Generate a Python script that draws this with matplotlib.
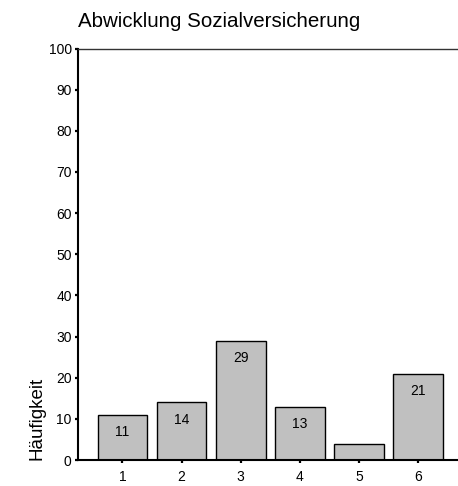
import matplotlib
matplotlib.use("Agg")
import matplotlib.pyplot as plt

# Abwicklung Sozialversicherung - Haeufigkeiten
categories = [1, 2, 3, 4, 5, 6]
counts = [11, 14, 29, 13, 4, 21]
bar_labels = ["11", "14", "29", "13", "", "21"]

plt.rcParams['font.family'] = ['Liberation Sans', 'DejaVu Sans']

fig = plt.figure(figsize=(4.58, 4.86), dpi=100)
ax = fig.add_axes([78/458, 26/486, 380/458, 411.5/486])

ax.bar(categories, counts, width=0.84, color="#c0c0c0",
       edgecolor="black", linewidth=1.0)
for x, y, lab in zip(categories, counts, bar_labels):
    ax.annotate(lab, (x, y), xytext=(0, -7.5), textcoords="offset points",
                ha="center", va="top", fontsize=10)

ax.set_xlim(0.25, 6.67)
ax.set_ylim(0, 100)
ax.set_yticks(range(0, 101, 10))
ax.set_xticks(categories)

ax.spines['right'].set_visible(False)
ax.spines['left'].set_linewidth(1.5)
ax.spines['bottom'].set_linewidth(1.5)
ax.spines['top'].set_linewidth(1.0)
ax.spines['top'].set_color("#333333")
ax.tick_params(axis='y', direction='out', length=2.5, width=1.6, pad=2, labelsize=10)
ax.tick_params(axis='x', direction='out', length=2.5, width=1.6, pad=4.5, labelsize=10)

ax.set_title("Abwicklung Sozialversicherung", loc='left', fontsize=14.8, pad=15.5)
ax.set_ylabel("Häufigkeit", loc='bottom', fontsize=13.5)
ax.yaxis.set_label_coords(-0.085, 0)

fig.savefig("out.png", dpi=100)
